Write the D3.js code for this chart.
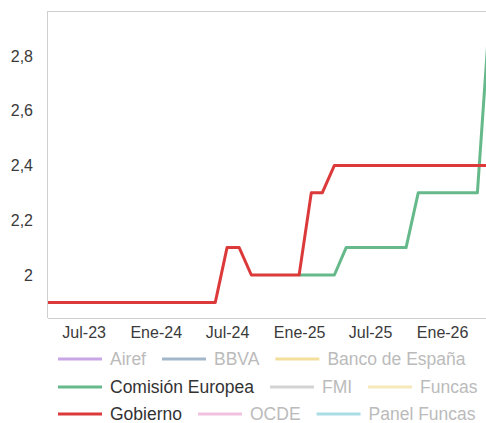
<!DOCTYPE html>
<html>
<head>
<meta charset="utf-8">
<script src="https://cdn.jsdelivr.net/npm/d3@7"></script>
<style>
  html, body { margin: 0; padding: 0; background: #fff; overflow: hidden; }
  svg { display: block; font-family: "Liberation Sans", Arial, sans-serif; }
</style>
</head>
<body>
<div id="chart"></div>
<script>
// monthly dates, Abr-23 .. May-26
var months = ["2023-04","2023-05","2023-06","2023-07","2023-08","2023-09","2023-10","2023-11","2023-12",
  "2024-01","2024-02","2024-03","2024-04","2024-05","2024-06","2024-07","2024-08","2024-09","2024-10","2024-11","2024-12",
  "2025-01","2025-02","2025-03","2025-04","2025-05","2025-06","2025-07","2025-08","2025-09","2025-10","2025-11","2025-12",
  "2026-01","2026-02","2026-03","2026-04","2026-05"];

var gobierno = [1.9,1.9,1.9,1.9,1.9,1.9,1.9,1.9,1.9,
  1.9,1.9,1.9,1.9,1.9,1.9,2.1,2.1,2.0,2.0,2.0,2.0,
  2.0,2.3,2.3,2.4,2.4,2.4,2.4,2.4,2.4,2.4,2.4,2.4,
  2.4,2.4,2.4,2.4,2.4];

var comision = [null,null,null,null,null,null,null,null,null,
  null,null,null,null,null,null,null,null,null,null,null,null,
  2.0,2.0,2.0,2.0,2.1,2.1,2.1,2.1,2.1,2.1,2.3,2.3,
  2.3,2.3,2.3,2.3,2.92];

var xTicks = ["2023-07","2024-01","2024-07","2025-01","2025-07","2026-01"];
var xTickLabels = ["Jul-23","Ene-24","Jul-24","Ene-25","Jul-25","Ene-26"];
var yTicks = [2, 2.2, 2.4, 2.6, 2.8];
var yTickLabels = ["2","2,2","2,4","2,6","2,8"];

var legendNames = ["Airef","BBVA","Banco de España","Comisión Europea","FMI","Funcas","Gobierno","OCDE","Panel Funcas"];
var legendColors = ["#c9a6e6","#a3b7ca","#f4de9c","#66b98a","#d3d3d3","#f8e9bb","#dc3a3a","#f1c2e0","#a9dde6"];
var legendActive = [false,false,false,true,false,false,true,false,false];

var width = 486, height = 423;
var margin = {top: 11, right: 0, bottom: 105, left: 48};
var w = width - margin.left - margin.right,
    h = height - margin.top - margin.bottom;

var parse = d3.timeParse("%Y-%m");

var svg = d3.select("#chart").append("svg").attr("width", width).attr("height", height);
var g = svg.append("g").attr("transform", "translate(" + margin.left + "," + margin.top + ")");

var x = d3.scaleTime().domain([parse("2023-04"), new Date(2026, 3, 23)]).range([0, w]);
var y = d3.scaleLinear().domain([1.843, 2.964]).range([h, 0]);

// frame
g.append("line").attr("x1", 0).attr("x2", w).attr("y1", 0.5).attr("y2", 0.5).attr("stroke", "#cfcfcf");
g.append("line").attr("x1", -0.5).attr("x2", -0.5).attr("y1", 0).attr("y2", h).attr("stroke", "#cfcfcf");
g.append("line").attr("x1", 0).attr("x2", w).attr("y1", h + 0.5).attr("y2", h + 0.5).attr("stroke", "#cfcfcf");

// axes
var xAxis = d3.axisBottom(x)
  .tickValues(xTicks.map(parse))
  .tickSize(0).tickPadding(9)
  .tickFormat(function(d, i) { return xTickLabels[i]; });
var gx = g.append("g").attr("transform", "translate(0," + h + ")").call(xAxis);
gx.select(".domain").remove();

var yAxis = d3.axisLeft(y)
  .tickValues(yTicks)
  .tickSize(0).tickPadding(15)
  .tickFormat(function(d, i) { return yTickLabels[i]; });
var gy = g.append("g").call(yAxis);
gy.select(".domain").remove();

svg.selectAll(".tick text").attr("font-size", 16).attr("fill", "#3a3a3a")
  .attr("font-family", "'Liberation Sans', Arial, sans-serif");

// lines
svg.append("clipPath").attr("id", "plotclip")
  .append("rect").attr("x", 0).attr("y", 0).attr("width", w).attr("height", h);

var line = d3.line()
  .defined(function(d) { return d.v != null; })
  .x(function(d) { return x(d.t); })
  .y(function(d) { return y(d.v); });

function series(vals) {
  return months.map(function(m, i) { return {t: parse(m), v: vals[i]}; });
}

var plot = g.append("g").attr("clip-path", "url(#plotclip)");
plot.append("path").datum(series(comision))
  .attr("fill", "none").attr("stroke", "#66b98a").attr("stroke-width", 3)
  .attr("stroke-linejoin", "round").attr("d", line);
plot.append("path").datum(series(gobierno))
  .attr("fill", "none").attr("stroke", "#dc3a3a").attr("stroke-width", 3)
  .attr("stroke-linejoin", "round").attr("d", line);

// legend, three items per row
var legend = svg.append("g");
var rowY = [359, 387, 414];
var cx = 58, row = -1;
legendNames.forEach(function(name, i) {
  if (i % 3 === 0) { row++; cx = 58; }
  var item = legend.append("g");
  item.append("line")
    .attr("x1", cx).attr("x2", cx + 44)
    .attr("y1", rowY[row]).attr("y2", rowY[row])
    .attr("stroke", legendColors[i]).attr("stroke-width", 3);
  var t = item.append("text")
    .attr("x", cx + 52).attr("y", rowY[row]).attr("dy", "0.35em")
    .attr("font-size", 17.5)
    .attr("fill", legendActive[i] ? "#333" : "#bbb")
    .text(name);
  cx = cx + 52 + t.node().getComputedTextLength() + 16;
});
</script>
</body>
</html>
